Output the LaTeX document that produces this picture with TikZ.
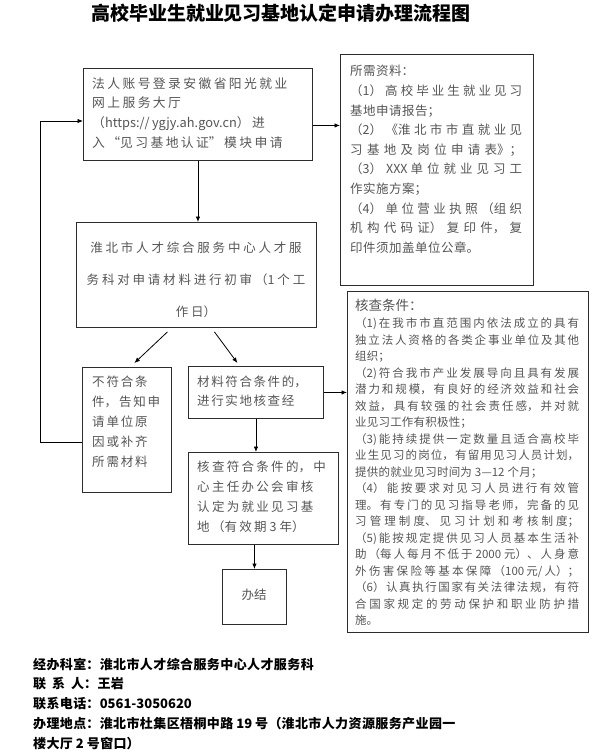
\documentclass[tikz,border=0pt]{standalone}
\usepackage{fontspec}
\setmainfont{Noto Sans CJK SC}
\usetikzlibrary{arrows.meta}
\XeTeXlinebreaklocale "zh"
\XeTeXlinebreakpenalty=10000
\setlength{\parindent}{0pt}
\tolerance=10000
\hbadness=10000
\hfuzz=20pt
\definecolor{txtc}{RGB}{85,85,85}
\definecolor{boxc}{RGB}{45,45,45}
\newcommand\firstl{\rule{0pt}{1em}}
\begin{document}
\begin{tikzpicture}[x=1pt,y=-1pt,
  box/.style={draw=boxc, line width=0.9pt, anchor=north west, inner sep=0pt},
  txt/.style={inner sep=0pt, text=txtc, anchor=north west},
  arr/.style={draw=black, line width=0.8pt, -{Latex[length=5.5pt,width=4.5pt]}},
]
\useasboundingbox (0,0) rectangle (600,753);

% title
\node[inner sep=0pt, anchor=center, font={\fontsize{19}{22}\selectfont\bfseries\XeTeXlinebreakskip=0.6pt\relax}] (title) at (281,13) {高校毕业生就业见习基地认定申请办理流程图};

% boxes
\node[box, minimum width=229pt, minimum height=92pt] (box1) at (83,68) {};
\node[box, minimum width=193pt, minimum height=231pt] (need) at (340,54) {};
\node[box, minimum width=240pt, minimum height=105pt] (box2) at (76,222) {};
\node[box, minimum width=89pt, minimum height=125pt] (fail) at (82,367) {};
\node[box, minimum width=135pt, minimum height=52pt] (ok) at (188,366) {};
\node[box, minimum width=241pt, minimum height=341pt] (cond) at (347,291) {};
\node[box, minimum width=150pt, minimum height=92pt] (check) at (188,452) {};
\node[box, minimum width=64pt, minimum height=55pt] (done) at (222,569) {};

% texts
\node[txt, text width=218pt, align=left, font={\fontsize{12.8}{19.7}\selectfont\XeTeXlinebreakskip=2.4pt\relax}] (t1) at (92,75.1)
{\firstl 法人账号登录安徽省阳光就业\\网上服务大厅\\（https://ygjy.ah.gov.cn）进\\入“见习基地认证”模块申请};

\node[txt, text width=172pt, align=justify, font={\fontsize{12.5}{19.6}\selectfont\XeTeXlinebreakskip=0.5pt plus 8pt\relax}] (tneed) at (350,63.25)
{\firstl 所需资料：\\（1）高校毕业生就业见习\linebreak 基地申请报告；\\（2）《淮北市市直就业见\linebreak 习基地及岗位申请表》；\linebreak （3）XXX\hspace{3pt}单位就业见习工\linebreak 作实施方案；\\（4）单位营业执照（组织\linebreak 机构代码证）复印件，复\linebreak 印件须加盖单位公章。};

\node[txt, anchor=north, text width=236pt, align=center, font={\fontsize{12.5}{32}\selectfont\XeTeXlinebreakskip=2.8pt\relax}] (t2) at (196,240.25)
{\firstl 淮北市人才综合服务中心人才服\\务科对申请材料进行初审（1\hspace{3pt}个工\\作日）};

\node[txt, text width=78pt, align=left, font={\fontsize{12.5}{20}\selectfont\XeTeXlinebreakskip=1.8pt\relax}] (tfail) at (92,374.25)
{\firstl 不符合条\\件，告知申\\请单位原\\因或补齐\\所需材料};

\node[txt, text width=124pt, align=left, font={\fontsize{12.5}{19}\selectfont\XeTeXlinebreakskip=1.6pt\relax}] (tok) at (197,374.25)
{\firstl 材料符合条件的，\\进行实地核查经};

\node[txt, text width=140pt, align=left, font={\fontsize{12.5}{19.7}\selectfont\XeTeXlinebreakskip=2.3pt\relax}] (tcheck) at (197,459.25)
{\firstl 核查符合条件的，中\\心主任办公会审核\\认定为就业见习基\\地（有效期\hspace{3pt}3\hspace{3pt}年）};

\node[txt, anchor=center, font={\fontsize{12.5}{15}\selectfont\XeTeXlinebreakskip=2pt\relax}] (tdone) at (254,595) {办结};

\node[txt, font={\fontsize{13.5}{16}\selectfont\XeTeXlinebreakskip=0.5pt\relax}] (tcondh) at (355,296.6) {\firstl 核查条件：};

\node[txt, text width=224pt, align=justify, font={\fontsize{11.5}{16.5}\selectfont\XeTeXlinebreakskip=0.2pt plus 8pt\relax}] (tcond) at (355,316.2)
{\firstl （1)在我市市直范围内依法成立的具有\linebreak
独立法人资格的各类企事业单位及其他\linebreak
组织；\\
（2)符合我市产业发展导向且具有发展\linebreak
潜力和规模，有良好的经济效益和社会\linebreak
效益，具有较强的社会责任感，并对就\linebreak
业见习工作有积极性；\\
（3)能持续提供一定数量且适合高校毕\linebreak
业生见习的岗位，有留用见习人员计划，\linebreak
提供的就业见习时间为\hspace{3pt}3—12\hspace{3pt}个月；\\
（4）能按要求对见习人员进行有效管\linebreak
理。有专门的见习指导老师，完备的见\linebreak
习管理制度、见习计划和考核制度；\linebreak
（5)能按规定提供见习人员基本生活补\linebreak
助（每人每月不低于\hspace{3pt}2000\hspace{3pt}元）、人身意\linebreak
外伤害保险等基本保障（100\hspace{2pt}元/人）；\linebreak
（6）认真执行国家有关法律法规，有符\linebreak
合国家规定的劳动保护和职业防护措\linebreak
施。};

% footer
\node[inner sep=0pt, anchor=north west, text width=460pt, align=left, font={\fontsize{13}{19.75}\selectfont\bfseries\XeTeXlinebreakskip=0.4pt\relax}] (foot) at (33,655.9)
{\firstl 经办科室：淮北市人才综合服务中心人才服务科\\
联\hspace{6pt}系\hspace{6pt}人：王岩\\
联系电话：0561-3050620\\
办理地点：淮北市杜集区梧桐中路\hspace{3pt}19\hspace{3pt}号（淮北市人力资源服务产业园一\\
楼大厅\hspace{3pt}2\hspace{3pt}号窗口）};

% connectors
\coordinate (lp1) at (40,442);
\coordinate (lp2) at (40,121);
\draw[arr] (fail.west |- lp1) -- (lp1) -- (lp2) -- (box1.west |- lp2);
\coordinate (a1) at ([yshift=-11pt]box1.east);
\draw[arr] (a1) -- (a1 -| need.west);
\draw[arr] (box1.south) -- (box1.south |- box2.north);
\draw[arr] ([xshift=-29pt,yshift=-4pt]box2.south) -- ([xshift=7.5pt,yshift=4pt]fail.north);
\draw[arr] ([xshift=18pt,yshift=-4pt]box2.south) -- ([xshift=-18.5pt,yshift=3pt]ok.north);
\draw[arr] (ok.east) -- (ok.east -| cond.west);
\draw[arr] (ok.south) -- (ok.south |- check.north);
\draw[arr] (done.north |- check.south) -- (done.north);
\end{tikzpicture}
\end{document}
